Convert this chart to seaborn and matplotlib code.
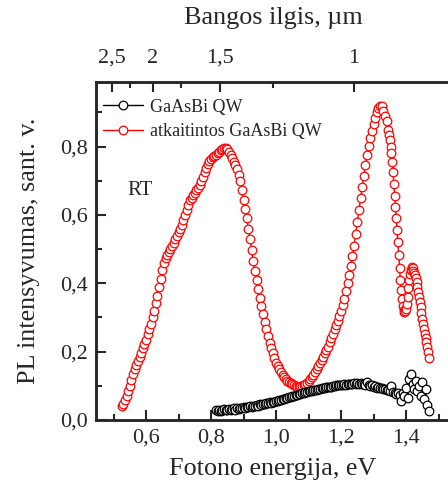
import numpy as np
import matplotlib
matplotlib.use("Agg")
import matplotlib.pyplot as plt
import seaborn as sns
from matplotlib.ticker import FixedLocator, MultipleLocator

# ---------------- data ----------------
# annealed sample (red), measured on a 0.005 eV grid from 0.525 eV ...
red_start_a, red_step_a = 0.525, 0.005
red_pl_a = [
    0.040, 0.046, 0.058, 0.070, 0.085, 0.100, 0.118, 0.134, 0.148, 0.160,
    0.172, 0.185, 0.197, 0.210, 0.222, 0.235, 0.251, 0.267, 0.282, 0.300,
    0.320, 0.341, 0.364, 0.388, 0.413, 0.440, 0.460, 0.474, 0.483, 0.491,
    0.500, 0.510, 0.519, 0.529, 0.539, 0.549, 0.560, 0.572, 0.586, 0.600,
    0.615, 0.630, 0.643, 0.651, 0.658, 0.665, 0.673, 0.680, 0.688, 0.698,
    0.711, 0.725, 0.737, 0.748, 0.758, 0.765, 0.770, 0.773, 0.776, 0.780,
    0.785, 0.790, 0.793, 0.795, 0.795, 0.792, 0.785, 0.776, 0.766, 0.756,
    0.746, 0.734, 0.718, 0.700, 0.672, 0.645, 0.618, 0.590, 0.560, 0.530,
    0.497, 0.465, 0.437, 0.410, 0.383, 0.357, 0.333, 0.310, 0.287, 0.265,
    0.245, 0.226, 0.210, 0.195, 0.180, 0.168, 0.158, 0.148, 0.140, 0.133,
    0.126, 0.120, 0.115, 0.111, 0.108, 0.105, 0.102, 0.100, 0.098, 0.098,
    0.099, 0.100, 0.102, 0.105, 0.108, 0.114, 0.119, 0.125, 0.132, 0.140,
    0.148, 0.157, 0.166, 0.176, 0.185, 0.195, 0.205, 0.215, 0.227, 0.240,
    0.252, 0.265, 0.277, 0.290, 0.305, 0.320, 0.337, 0.355, 0.377, 0.400,
    0.423, 0.450, 0.479, 0.510, 0.545, 0.580, 0.615, 0.650, 0.683, 0.715,
    0.746, 0.775, 0.801, 0.825, 0.846, 0.865, 0.883, 0.900, 0.912, 0.920,
    0.918, 0.905, 0.890, 0.875, 0.850,
]
# ... and on a finer 0.0025 eV grid in the high-energy tail
red_start_b, red_step_b = 1.3475, 0.0025
red_pl_b = [
    0.835, 0.820, 0.800, 0.780, 0.755, 0.725, 0.690, 0.655, 0.622, 0.590,
    0.555, 0.520, 0.482, 0.445, 0.410, 0.380, 0.355, 0.335, 0.322, 0.315,
    0.318, 0.325, 0.340, 0.360, 0.385, 0.410, 0.428, 0.440, 0.447, 0.445,
    0.437, 0.430, 0.423, 0.415, 0.403, 0.390, 0.375, 0.360, 0.345, 0.330,
    0.312, 0.295, 0.280, 0.265, 0.252, 0.240, 0.228, 0.215, 0.198, 0.180,
]

# as-grown sample (black), 0.005 eV grid from 0.815 eV
black_start, black_step = 0.815, 0.005
black_pl = [
    0.028, 0.026, 0.030, 0.027, 0.029, 0.031, 0.028, 0.030, 0.033, 0.029,
    0.031, 0.034, 0.030, 0.035, 0.032, 0.036, 0.034, 0.037, 0.035, 0.039,
    0.037, 0.040, 0.038, 0.042, 0.040, 0.044, 0.042, 0.046, 0.045, 0.048,
    0.046, 0.050, 0.049, 0.052, 0.050, 0.054, 0.053, 0.056, 0.055, 0.058,
    0.058, 0.061, 0.060, 0.063, 0.064, 0.066, 0.066, 0.069, 0.069, 0.072,
    0.072, 0.075, 0.075, 0.078, 0.078, 0.081, 0.081, 0.084, 0.084, 0.086,
    0.087, 0.089, 0.089, 0.091, 0.092, 0.093, 0.094, 0.095, 0.096, 0.097,
    0.098, 0.098, 0.100, 0.100, 0.101, 0.102, 0.101, 0.103, 0.102, 0.104,
    0.103, 0.105, 0.104, 0.106, 0.104, 0.107, 0.105, 0.108, 0.105, 0.107,
    0.104, 0.106, 0.103, 0.112, 0.102, 0.100, 0.103, 0.098, 0.100, 0.095,
    0.097, 0.093, 0.094, 0.090, 0.092, 0.088, 0.089, 0.085, 0.100, 0.082,
    0.080, 0.077, 0.078, 0.072, 0.055, 0.080, 0.070, 0.095, 0.065, 0.120,
    0.135, 0.105, 0.090, 0.115, 0.085, 0.100, 0.070, 0.110, 0.060, 0.090,
    0.045, 0.025,
]

series_labels = ["GaAsBi QW", "atkaitintos GaAsBi QW"]
x_ticks = [0.6, 0.8, 1.0, 1.2, 1.4]
x_tick_labels = ["0,6", "0,8", "1,0", "1,2", "1,4"]
y_ticks = [0.0, 0.2, 0.4, 0.6, 0.8]
y_tick_labels = ["0,0", "0,2", "0,4", "0,6", "0,8"]
wl_ticks = [2.5, 2.0, 1.5, 1.0]
wl_tick_labels = ["2,5", "2", "1,5", "1"]
wl_minor = [2.25, 1.75, 1.25]
HC = 1.24  # eV*um

# ---------------- build arrays ----------------
red_e = np.concatenate([
    red_start_a + red_step_a * np.arange(len(red_pl_a)),
    red_start_b + red_step_b * np.arange(len(red_pl_b)),
])
red_pl = np.array(red_pl_a + red_pl_b)
black_e = black_start + black_step * np.arange(len(black_pl))
black_pl = np.array(black_pl)

# ---------------- style ----------------
sns.set_style("ticks")
plt.rcParams["font.family"] = ["Liberation Serif", "DejaVu Serif"]
plt.rcParams["axes.linewidth"] = 1.8

fig = plt.figure(figsize=(4.48, 4.94), dpi=100)
ax = fig.add_axes([96 / 448, 74 / 494, 354 / 448, 338.3 / 494])

mk = dict(marker="o", markersize=6.2, markerfacecolor="white",
          markeredgewidth=0.9, linewidth=1.0, sort=False)
sns.lineplot(x=black_e, y=black_pl, ax=ax, color="black",
             markeredgecolor="black", label=series_labels[0], zorder=3, **mk)
sns.lineplot(x=red_e, y=red_pl, ax=ax, color="red",
             markeredgecolor="red", label=series_labels[1], zorder=2, **mk)

xlim = (0.446, 0.446 + 354 / 325)
ax.set_xlim(*xlim)
ax.set_ylim(0, 0.99)
ax.set_xticks(x_ticks)
ax.set_xticklabels(x_tick_labels)
ax.set_yticks(y_ticks)
ax.set_yticklabels(y_tick_labels)
ax.xaxis.set_minor_locator(MultipleLocator(0.1))
ax.yaxis.set_minor_locator(MultipleLocator(0.1))
ax.tick_params(which="major", direction="in", length=7, width=1.5,
               labelsize=16, top=False, right=False, pad=6)
ax.tick_params(which="minor", direction="in", length=4, width=1.5,
               top=False, right=False)
ax.set_xlabel("Fotono energija, eV", fontsize=18.8, labelpad=8)
ax.set_ylabel("PL intensyvumas, sant. v.", fontsize=18.8, labelpad=14)

ax.text(0.544, 0.673, "RT", fontsize=15, ha="left", va="center")

leg = ax.legend(loc="upper left", bbox_to_anchor=(0.02, 0.95),
                frameon=False, fontsize=13, handlelength=2.2,
                handletextpad=0.4, borderaxespad=0, borderpad=0,
                labelspacing=0.4)

# top wavelength axis
ax2 = ax.twiny()
ax2.set_xlim(*xlim)
ax2.set_xticks([HC / w for w in wl_ticks])
ax2.set_xticklabels(wl_tick_labels)
ax2.xaxis.set_minor_locator(FixedLocator([HC / w for w in wl_minor]))
ax2.tick_params(which="major", direction="in", length=7, width=1.5,
                labelsize=16, pad=10)
ax2.tick_params(which="minor", direction="in", length=4, width=1.5)
ax2.set_xlabel("Bangos ilgis, µm", fontsize=18.8, labelpad=18)
for s in ax2.spines.values():
    s.set_linewidth(1.8)

fig.savefig("out.png", dpi=100)
